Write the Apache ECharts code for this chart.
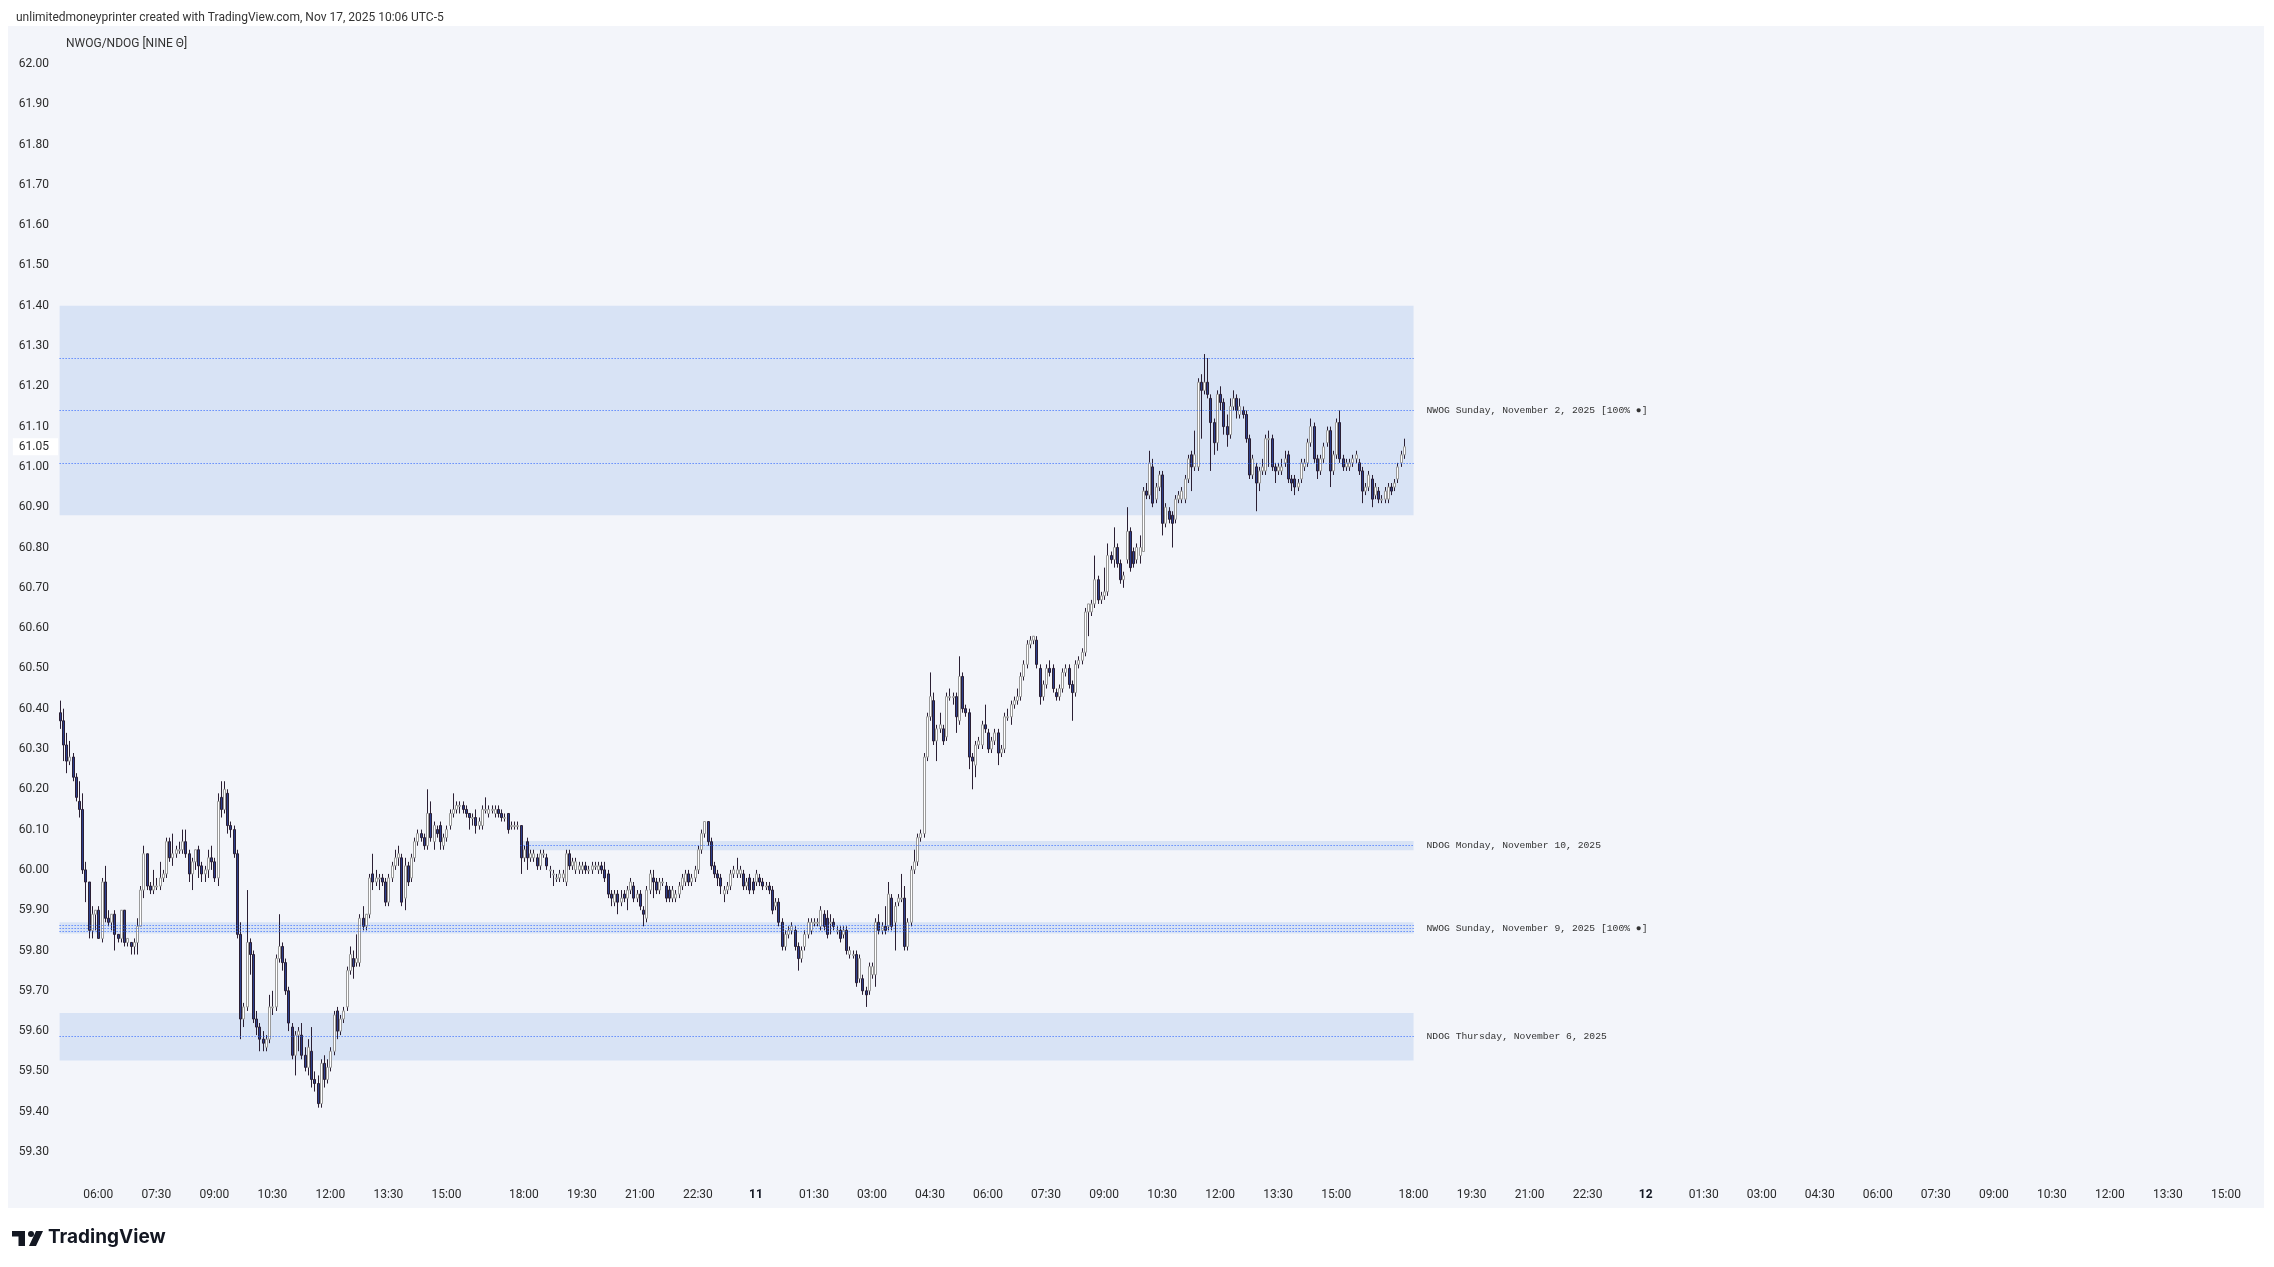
<!DOCTYPE html>
<html>
<head>
<meta charset="utf-8">
<title>NWOG/NDOG</title>
<script src="https://cdn.jsdelivr.net/npm/echarts@6.0.0/dist/echarts.min.js"></script>
<style>
  html, body { margin: 0; padding: 0; background: #fff; }
  #chart { width: 2274px; height: 1267px; }
</style>
</head>
<body>
<div id="chart"></div>
<script>
// 5 min candles, [open, close, low, high]
// Nov 10 05:00 -> 14:35
const candlesA = [
  [60.39,60.37,60.35,60.42],[60.37,60.31,60.27,60.40],[60.31,60.27,60.24,60.34],[60.27,60.28,60.26,60.32],
  [60.28,60.23,60.22,60.29],[60.23,60.18,60.17,60.24],[60.17,60.15,60.13,60.22],[60.15,60.00,59.99,60.19],
  [60.00,59.97,59.92,60.02],[59.97,59.85,59.83,59.97],[59.85,59.89,59.83,59.91],[59.89,59.90,59.85,59.90],
  [59.90,59.83,59.83,59.91],[59.83,59.97,59.82,59.98],[59.97,59.88,59.87,60.01],[59.88,59.87,59.86,59.90],
  [59.87,59.89,59.85,59.89],[59.89,59.84,59.80,59.90],[59.84,59.83,59.82,59.84],[59.83,59.90,59.82,59.90],
  [59.90,59.82,59.81,59.90],[59.82,59.83,59.81,59.83],[59.82,59.81,59.79,59.82],[59.81,59.82,59.79,59.83],
  [59.82,59.86,59.79,59.88],[59.86,59.95,59.86,59.96],[59.95,60.04,59.93,60.06],[60.04,59.96,59.95,60.04],
  [59.96,59.95,59.94,59.97],[59.95,59.96,59.94,60.00],[59.96,59.96,59.95,59.98],[59.96,59.98,59.95,60.02],
  [59.98,59.99,59.97,60.00],[59.99,60.07,59.98,60.08],[60.07,60.03,60.02,60.08],[60.03,60.04,60.01,60.09],
  [60.04,60.05,60.03,60.06],[60.05,60.05,60.04,60.07],[60.05,60.07,60.04,60.10],[60.07,60.04,60.03,60.10],
  [60.04,59.99,59.97,60.05],[59.99,60.02,59.95,60.03],[60.02,60.05,60.00,60.05],[60.05,60.01,59.98,60.06],
  [60.01,59.99,59.97,60.02],[59.99,60.00,59.97,60.01],[60.00,60.03,59.98,60.05],[60.03,60.02,60.00,60.06],
  [60.02,59.98,59.97,60.03],[59.98,60.17,59.96,60.19],[60.18,60.15,60.13,60.22],[60.15,60.20,60.14,60.22],
  [60.19,60.11,60.09,60.20],[60.11,60.10,60.08,60.12],[60.10,60.04,60.03,60.11],[60.04,59.84,59.83,60.05],
  [59.84,59.63,59.58,59.87],[59.63,59.66,59.61,59.67],[59.66,59.82,59.65,59.95],[59.82,59.79,59.74,59.83],
  [59.79,59.63,59.62,59.80],[59.63,59.61,59.59,59.65],[59.61,59.58,59.55,59.62],[59.58,59.57,59.55,59.60],
  [59.56,59.58,59.55,59.59],[59.58,59.66,59.57,59.69],[59.66,59.66,59.64,59.70],[59.66,59.78,59.65,59.79],
  [59.78,59.81,59.77,59.89],[59.81,59.77,59.75,59.82],[59.77,59.70,59.69,59.78],[59.70,59.62,59.60,59.71],
  [59.61,59.54,59.53,59.62],[59.54,59.59,59.49,59.60],[59.59,59.60,59.55,59.61],[59.59,59.54,59.53,59.62],
  [59.54,59.51,59.50,59.56],[59.51,59.56,59.49,59.58],[59.55,59.48,59.46,59.61],[59.48,59.47,59.45,59.50],
  [59.47,59.42,59.41,59.49],[59.42,59.52,59.41,59.53],[59.52,59.48,59.46,59.54],[59.48,59.51,59.47,59.53],
  [59.51,59.55,59.50,59.56],[59.55,59.64,59.54,59.65],[59.65,59.60,59.58,59.66],[59.60,59.63,59.59,59.64],
  [59.63,59.65,59.62,59.66],[59.66,59.75,59.65,59.76],[59.75,59.79,59.74,59.81],[59.78,59.76,59.73,59.80],
  [59.77,59.78,59.76,59.84],[59.77,59.88,59.76,59.89],[59.88,59.86,59.85,59.91],[59.86,59.89,59.85,59.89],
  [59.89,59.98,59.88,59.99],[59.99,59.97,59.95,60.04],[59.97,59.98,59.96,60.00],[59.98,59.98,59.95,59.99],
  [59.98,59.97,59.96,59.99],[59.97,59.92,59.91,59.98],[59.92,59.98,59.91,59.99],[59.98,60.01,59.97,60.02],
  [60.01,60.03,60.00,60.05],[60.03,60.04,60.01,60.06],[60.03,59.92,59.91,60.04],[59.93,60.01,59.90,60.03],
  [60.01,59.97,59.96,60.02],[59.98,60.03,59.97,60.04],[60.03,60.07,60.02,60.08],[60.07,60.09,60.06,60.10],
  [60.09,60.08,60.07,60.10],[60.08,60.06,60.05,60.09],[60.06,60.14,60.05,60.20],[60.14,60.08,60.07,60.17]
];
// Nov 10 14:40 -> Nov 11 03:20 (break 17:00-18:00)
const candlesB = [
  [60.07,60.11,60.05,60.12],[60.10,60.09,60.08,60.11],[60.11,60.07,60.05,60.12],[60.06,60.08,60.05,60.09],
  [60.08,60.10,60.07,60.11],[60.11,60.14,60.10,60.15],[60.14,60.15,60.13,60.19],[60.15,60.16,60.14,60.17],
  [60.16,60.16,60.14,60.17],[60.16,60.15,60.14,60.17],[60.15,60.14,60.13,60.16],[60.14,60.13,60.10,60.14],
  [60.13,60.13,60.11,60.14],[60.13,60.11,60.09,60.15],[60.11,60.12,60.10,60.13],[60.11,60.15,60.10,60.16],
  [60.15,60.15,60.14,60.18],[60.14,60.15,60.13,60.16],[60.15,60.15,60.14,60.16],[60.14,60.15,60.13,60.16],
  [60.15,60.14,60.13,60.16],[60.14,60.13,60.12,60.15],[60.13,60.13,60.12,60.14],[60.14,60.10,60.09,60.14],
  [60.11,60.11,60.10,60.12],[60.11,60.11,60.10,60.12],[60.11,60.11,60.10,60.12],[60.11,60.03,59.99,60.11],
  [60.03,60.05,60.02,60.06],[60.07,60.03,60.00,60.08],[60.03,60.04,60.02,60.05],[60.03,60.04,60.02,60.05],
  [60.03,60.01,60.00,60.04],[60.01,60.04,60.00,60.05],[60.04,60.04,60.03,60.05],[60.03,60.01,60.00,60.04],
  [60.00,60.00,59.98,60.01],[59.99,59.99,59.96,60.00],[59.98,59.98,59.97,59.99],[59.98,59.99,59.97,60.00],
  [59.98,59.99,59.97,60.00],[59.97,60.04,59.96,60.05],[60.04,60.01,60.00,60.05],[60.01,60.02,60.00,60.03],
  [60.00,60.02,59.99,60.03],[60.00,60.01,59.99,60.02],[60.00,60.01,59.99,60.02],[60.01,60.00,59.99,60.02],
  [60.00,60.00,59.99,60.01],[60.00,60.01,59.99,60.02],[60.01,60.01,60.00,60.02],[60.00,60.01,59.99,60.02],
  [60.01,60.00,59.99,60.02],[60.00,59.98,59.97,60.02],[59.99,59.94,59.93,60.00],[59.94,59.93,59.91,59.95],
  [59.92,59.94,59.91,59.95],[59.94,59.92,59.89,59.95],[59.92,59.93,59.91,59.95],[59.94,59.93,59.92,59.95],
  [59.93,59.95,59.90,59.96],[59.95,59.97,59.94,59.98],[59.96,59.93,59.92,59.97],[59.93,59.94,59.92,59.95],
  [59.94,59.91,59.90,59.95],[59.90,59.89,59.86,59.91],[59.88,59.95,59.87,59.96],[59.95,59.99,59.94,60.00],
  [59.98,59.97,59.93,60.00],[59.97,59.95,59.94,59.98],[59.95,59.97,59.94,59.98],[59.97,59.97,59.96,59.98],
  [59.96,59.93,59.92,59.97],[59.95,59.93,59.92,59.96],[59.93,59.95,59.92,59.96],[59.93,59.94,59.92,59.95],
  [59.94,59.96,59.93,59.97],[59.96,59.98,59.95,59.99],[59.97,59.99,59.96,60.00],[59.99,59.97,59.96,60.00],
  [59.97,59.98,59.96,59.99],[59.98,60.00,59.97,60.01],[60.00,60.05,59.99,60.06],[60.05,60.09,60.04,60.10],
  [60.09,60.12,60.08,60.12],[60.12,60.07,60.06,60.12],[60.07,60.01,60.00,60.08],[60.01,59.99,59.98,60.02],
  [59.99,59.98,59.96,60.00],[59.98,59.96,59.94,59.99],[59.94,59.95,59.92,59.96],[59.95,59.96,59.94,59.97],
  [59.96,59.99,59.95,60.00],[59.99,60.00,59.98,60.01],[59.99,60.00,59.98,60.03],[59.99,60.00,59.98,60.01],
  [59.99,59.96,59.95,60.00],[59.96,59.97,59.95,59.98],[59.98,59.95,59.94,59.99],[59.97,59.95,59.94,59.98],
  [59.97,59.99,59.96,60.00],[59.98,59.97,59.96,59.99],[59.97,59.96,59.95,59.98],[59.96,59.96,59.95,59.97],
  [59.96,59.95,59.94,59.97],[59.95,59.90,59.89,59.96],[59.91,59.92,59.90,59.93],[59.92,59.87,59.86,59.93],
  [59.87,59.81,59.80,59.88],[59.81,59.84,59.80,59.85],[59.84,59.85,59.83,59.86],[59.85,59.86,59.84,59.87],
  [59.85,59.81,59.80,59.86],[59.81,59.78,59.75,59.82],[59.78,59.80,59.77,59.81],[59.81,59.84,59.80,59.85],
  [59.84,59.87,59.83,59.88],[59.85,59.87,59.84,59.88],[59.87,59.87,59.86,59.88],[59.87,59.87,59.86,59.88],
  [59.86,59.90,59.85,59.91],[59.89,59.86,59.85,59.90],[59.88,59.84,59.83,59.90],[59.87,59.87,59.84,59.89],
  [59.87,59.86,59.85,59.88],[59.85,59.85,59.84,59.86],[59.85,59.83,59.82,59.86],[59.84,59.85,59.83,59.86],
  [59.85,59.80,59.79,59.86],[59.79,59.80,59.78,59.81],[59.79,59.79,59.78,59.80],[59.79,59.72,59.71,59.80],
  [59.73,59.78,59.72,59.79],[59.73,59.70,59.69,59.74],[59.70,59.69,59.66,59.71],[59.70,59.76,59.69,59.77],
  [59.74,59.76,59.73,59.77],[59.74,59.87,59.71,59.88],[59.87,59.85,59.84,59.89],[59.85,59.86,59.84,59.87],
  [59.86,59.85,59.84,59.91]
];
// Nov 11 03:25 -> 09:05
const candlesC = [
  [59.86,59.94,59.85,59.97],[59.93,59.86,59.85,59.94],[59.87,59.91,59.80,59.92],[59.92,59.93,59.91,59.94],
  [59.93,59.93,59.92,59.99],[59.93,59.81,59.80,59.96],[59.81,59.87,59.80,59.88],[59.87,60.00,59.86,60.01],
  [60.00,60.02,59.99,60.05],[60.02,60.08,60.01,60.09],[60.08,60.09,60.07,60.10],[60.09,60.28,60.08,60.29],
  [60.28,60.38,60.27,60.39],[60.38,60.43,60.37,60.49],[60.42,60.32,60.31,60.44],[60.32,60.35,60.27,60.36],
  [60.35,60.36,60.34,60.39],[60.35,60.32,60.31,60.36],[60.33,60.43,60.32,60.44],[60.43,60.43,60.42,60.45],
  [60.43,60.43,60.41,60.44],[60.43,60.38,60.34,60.44],[60.37,60.48,60.36,60.53],[60.48,60.40,60.39,60.49],
  [60.40,60.39,60.38,60.41],[60.39,60.28,60.25,60.40],[60.28,60.27,60.20,60.29],[60.26,60.31,60.23,60.32],
  [60.31,60.32,60.30,60.33],[60.31,60.36,60.30,60.37],[60.36,60.35,60.34,60.41],[60.34,60.30,60.29,60.35],
  [60.30,60.32,60.29,60.33],[60.32,60.34,60.31,60.35],[60.34,60.29,60.26,60.35],[60.29,60.30,60.28,60.31],
  [60.30,60.38,60.29,60.39],[60.38,60.38,60.37,60.40],[60.38,60.41,60.36,60.42],[60.41,60.42,60.40,60.43],
  [60.42,60.43,60.41,60.45],[60.43,60.48,60.42,60.49],[60.48,60.51,60.47,60.52],[60.51,60.56,60.50,60.57],
  [60.56,60.57,60.55,60.58],[60.57,60.58,60.56,60.58],[60.57,60.51,60.50,60.58],[60.50,60.43,60.41,60.51],
  [60.43,60.46,60.42,60.47],[60.46,60.50,60.45,60.51],[60.50,60.49,60.48,60.52],[60.50,60.45,60.44,60.51],
  [60.44,60.43,60.42,60.45],[60.43,60.45,60.42,60.46],[60.45,60.49,60.44,60.50],[60.49,60.50,60.48,60.51],
  [60.50,60.46,60.45,60.51],[60.46,60.44,60.37,60.47],[60.44,60.51,60.43,60.52],[60.51,60.52,60.50,60.53],
  [60.52,60.54,60.51,60.55],[60.54,60.64,60.53,60.65],[60.64,60.66,60.58,60.66],[60.64,60.66,60.63,60.67],
  [60.66,60.72,60.65,60.78],[60.72,60.67,60.66,60.73],[60.67,60.68,60.66,60.69],[60.68,60.69,60.67,60.75],
  [60.69,60.78,60.68,60.81]
];
// Nov 11 09:10 -> 16:45
const candlesD = [
  [60.78,60.77,60.76,60.79],[60.77,60.80,60.75,60.85],[60.80,60.76,60.75,60.81],[60.76,60.72,60.71,60.77],
  [60.72,60.73,60.70,60.74],[60.77,60.84,60.76,60.90],[60.84,60.75,60.74,60.85],[60.79,60.76,60.75,60.80],
  [60.77,60.80,60.76,60.81],[60.78,60.80,60.76,60.83],[60.79,60.94,60.79,60.95],[60.94,60.93,60.92,60.96],
  [60.93,61.01,60.92,61.04],[61.00,60.91,60.90,61.02],[60.92,60.95,60.91,60.96],[60.95,60.98,60.94,60.99],
  [60.98,60.86,60.83,60.99],[60.86,60.90,60.85,60.91],[60.89,60.87,60.86,60.90],[60.88,60.86,60.80,60.89],
  [60.87,60.92,60.86,60.93],[60.92,60.93,60.91,60.94],[60.92,60.94,60.91,60.95],[60.92,60.97,60.91,60.98],
  [60.97,61.02,60.96,61.03],[61.03,61.00,60.94,61.04],[61.00,61.03,60.99,61.09],[61.00,61.21,60.99,61.22],
  [61.21,61.19,61.07,61.23],[61.19,61.21,61.18,61.28],[61.21,61.18,61.17,61.27],[61.17,61.11,60.99,61.18],
  [61.11,61.06,61.03,61.12],[61.06,61.18,61.04,61.19],[61.18,61.16,61.14,61.20],[61.16,61.10,61.08,61.17],
  [61.10,61.08,61.05,61.13],[61.08,61.15,61.07,61.17],[61.15,61.17,61.14,61.19],[61.17,61.14,61.12,61.18],
  [61.13,61.15,61.12,61.17],[61.14,61.13,61.12,61.15],[61.13,61.07,61.06,61.14],[61.07,60.98,60.97,61.08],
  [60.98,61.02,60.97,61.03],[61.00,60.96,60.89,61.01],[60.96,60.99,60.94,61.00],[60.99,61.00,60.98,61.02],
  [60.99,61.07,60.98,61.08],[61.07,61.07,61.00,61.09],[61.07,61.00,60.99,61.08],[61.00,60.99,60.96,61.01],
  [60.99,61.00,60.98,61.01],[60.99,61.00,60.98,61.02],[61.01,61.02,61.00,61.04],[61.03,60.97,60.96,61.04],
  [60.97,60.96,60.94,60.98],[60.97,60.95,60.93,60.98],[60.95,60.96,60.94,60.97],[60.97,61.01,60.96,61.02],
  [61.00,61.01,60.99,61.02],[61.01,61.06,61.00,61.07],[61.06,61.10,61.05,61.12],[61.10,61.02,61.01,61.11],
  [61.02,60.99,60.97,61.03],[60.99,61.02,60.98,61.03],[61.02,61.05,61.01,61.06],[61.06,61.09,61.05,61.10],
  [61.09,60.99,60.95,61.10],[60.99,61.03,60.98,61.04],[61.03,61.11,61.02,61.12],[61.11,61.02,61.01,61.14],
  [61.02,61.00,60.99,61.03],[61.00,61.01,60.99,61.02],[61.00,61.01,60.99,61.02],[61.01,61.02,61.00,61.03],
  [61.02,61.03,61.01,61.04],[61.01,60.99,60.98,61.02],[60.99,60.94,60.91,61.00],[60.94,60.95,60.93,60.96],
  [60.95,60.98,60.94,60.99],[60.97,60.92,60.90,60.98],[60.93,60.95,60.92,60.96],[60.94,60.92,60.91,60.95],
  [60.92,60.92,60.91,60.93],[60.92,60.94,60.91,60.95],[60.92,60.95,60.91,60.96],[60.95,60.94,60.93,60.96],
  [60.95,60.96,60.94,60.97],[60.97,61.00,60.96,61.01],[61.01,61.03,61.00,61.04],[61.03,61.05,61.02,61.07]
];

// opening gap zones (price range + level lines)
const zoneNames = [
  'NWOG Sunday, November 2, 2025 [100% ●]',
  'NDOG Monday, November 10, 2025',
  'NWOG Sunday, November 9, 2025 [100% ●]',
  'NDOG Thursday, November 6, 2025'
];
const zoneStart = ['11-10 05:00', '11-10 16:55', '11-10 05:00', '11-10 05:00'];
const zoneEnd = '11-11 18:00';
const zoneLow = [60.88, 60.049, 59.842, 59.527];
const zoneHigh = [61.40, 60.072, 59.870, 59.645];
const zoneMid = [61.14, 60.06, 59.856, 59.586];
const zoneQuarter = [[61.01, 61.27], [], [59.849, 59.863], []];
const lastPrice = 61.05;

// 5 minute slots, Nov 10 05:00 -> Nov 12 16:00, no 17:00 hour
const categories = [];
(function () {
  const pad = n => String(n).padStart(2, '0');
  let t = Date.UTC(2025, 10, 10, 5, 0);
  const end = Date.UTC(2025, 10, 12, 16, 0);
  while (t < end) {
    const d = new Date(t);
    if (d.getUTCHours() !== 17) {
      categories.push(pad(d.getUTCMonth() + 1) + '-' + pad(d.getUTCDate()) + ' ' +
        pad(d.getUTCHours()) + ':' + pad(d.getUTCMinutes()));
    }
    t += 5 * 60000;
  }
})();

const candles = [...candlesA, ...candlesB, ...candlesC, ...candlesD].map((d, i) => [i, d[0], d[1], d[2], d[3]]);

const blue = '#2962ff';
const wick = '#2b1f33';

function renderCandle(params, api) {
  const x = api.value(0);
  const o = api.value(1), c = api.value(2), l = api.value(3), h = api.value(4);
  const pO = api.coord([x, o]);
  const pC = api.coord([x, c]);
  const pL = api.coord([x, l]);
  const pH = api.coord([x, h]);
  const cx = Math.round(pO[0]);
  const up = c >= o;
  const top = Math.min(pO[1], pC[1]);
  const bh = Math.max(Math.abs(pO[1] - pC[1]), 1);
  return {
    type: 'group',
    children: [
      { type: 'line', shape: { x1: cx + 0.5, y1: pH[1], x2: cx + 0.5, y2: pL[1] },
        style: { stroke: wick, lineWidth: 1 } },
      { type: 'rect', shape: { x: cx - 0.5, y: top, width: 2, height: bh },
        style: { fill: up ? '#ffffff' : '#2c3e8c', stroke: up ? '#9a9a9a' : wick, lineWidth: 1 } }
    ]
  };
}

const dotted = { color: blue, width: 1, type: [1, 2], opacity: 1 };
const monoLabel = {
  show: true, position: 'end', distance: 13,
  fontFamily: '"Liberation Mono", "DejaVu Sans Mono", monospace', fontSize: 9.7, color: '#333'
};

const areaData = zoneNames.map((n, k) => [
  { xAxis: zoneStart[k], yAxis: zoneHigh[k] },
  { xAxis: zoneEnd, yAxis: zoneLow[k] }
]);
const lineData = [];
zoneNames.forEach((n, k) => {
  lineData.push([
    { xAxis: zoneStart[k], yAxis: zoneMid[k], lineStyle: dotted, label: Object.assign({ formatter: n }, monoLabel) },
    { xAxis: zoneEnd, yAxis: zoneMid[k] }
  ]);
  zoneQuarter[k].forEach(v => {
    lineData.push([
      { xAxis: zoneStart[k], yAxis: v, lineStyle: dotted, label: { show: false } },
      { xAxis: zoneEnd, yAxis: v }
    ]);
  });
});

const chart = echarts.init(document.getElementById('chart'), null, { renderer: 'canvas' });
chart.setOption({
  animation: false,
  backgroundColor: '#ffffff',
  textStyle: { fontFamily: 'Roboto' },
  title: [
    { text: 'unlimitedmoneyprinter created with TradingView.com, Nov 17, 2025 10:06 UTC-5',
      left: 11, top: 7, textStyle: { fontSize: 12, fontWeight: 'normal', color: '#333', fontFamily: 'Roboto' } },
    { text: 'NWOG/NDOG [NINE Θ]',
      left: 61, top: 33, textStyle: { fontSize: 12, fontWeight: 'normal', color: '#333', fontFamily: 'Roboto' } }
  ],
  graphic: [
    { type: 'rect', z: -1, silent: true, shape: { x: 8, y: 26, width: 2256, height: 1182 },
      style: { fill: '#f3f5fa' } },
    { type: 'group', left: 12, top: 1231, children: [
      { type: 'rect', shape: { x: 0, y: 0, width: 13, height: 5.5 }, style: { fill: '#131722' } },
      { type: 'rect', shape: { x: 6.5, y: 0, width: 6.5, height: 15 }, style: { fill: '#131722' } },
      { type: 'circle', shape: { cx: 19, cy: 3, r: 3 }, style: { fill: '#131722' } },
      { type: 'polygon', shape: { points: [[24, 0], [31, 0], [24, 15], [17, 15]] }, style: { fill: '#131722' } }
    ] },
    { type: 'text', left: 48, top: 1228, style: {
      text: 'TradingView', fill: '#131722', font: '700 19px Inter, Roboto, sans-serif' } }
  ],
  grid: { left: 58, right: 11, top: 23.6, bottom: 74.7, outerBoundsMode: 'none' },
  xAxis: {
    type: 'category',
    data: categories,
    boundaryGap: true,
    axisLine: { show: false },
    axisTick: { show: false },
    splitLine: { show: false },
    axisLabel: {
      margin: 3,
      verticalAlign: 'middle',
      color: '#2b2b2b',
      fontSize: 12,
      fontFamily: 'Roboto',
      hideOverlap: false,
      interval: (idx, val) => {
        const hm = val.slice(6);
        const mins = Number(hm.slice(0, 2)) * 60 + Number(hm.slice(3));
        return mins % 90 === 0 && hm !== '16:30';
      },
      formatter: val => {
        const hm = val.slice(6);
        if (hm === '00:00') return '{day|' + Number(val.slice(3, 5)) + '}';
        return hm;
      },
      rich: { day: { fontWeight: 'bold', fontSize: 12, color: '#131722', fontFamily: 'Roboto' } }
    }
  },
  yAxis: {
    type: 'value',
    position: 'left',
    min: 59.2,
    max: 62.1,
    interval: 0.1,
    axisLine: { show: false },
    axisTick: { show: false },
    splitLine: { show: false },
    axisLabel: {
      margin: 9,
      color: '#2b2b2b',
      fontSize: 12,
      fontFamily: 'Roboto',
      formatter: v => (v < 59.25 || v > 62.05) ? '' : v.toFixed(2)
    },
    // current price tag on the scale
    axisPointer: {
      show: true,
      type: 'none',
      value: lastPrice,
      status: 'show',
      triggerTooltip: false,
      label: {
        show: true,
        precision: 2,
        margin: 0,
        backgroundColor: '#ffffff',
        color: '#2b2b2b',
        fontSize: 12,
        fontFamily: 'Roboto',
        padding: [3, 9, 2, 6],
        borderRadius: 0,
        shadowBlur: 0
      }
    }
  },
  axisPointer: { triggerOn: 'none' },
  series: [
    {
      name: 'zones',
      type: 'line',
      data: [],
      z: 1,
      silent: true,
      markArea: {
        silent: true,
        itemStyle: { color: '#d8e3f5', opacity: 1 },
        data: areaData
      },
      markLine: {
        silent: true,
        symbol: ['none', 'none'],
        animation: false,
        data: lineData
      }
    },
    {
      name: 'NWOG/NDOG',
      type: 'custom',
      z: 3,
      renderItem: renderCandle,
      encode: { x: 0, y: [1, 2, 3, 4] },
      data: candles
    }
  ]
});
</script>
</body>
</html>
